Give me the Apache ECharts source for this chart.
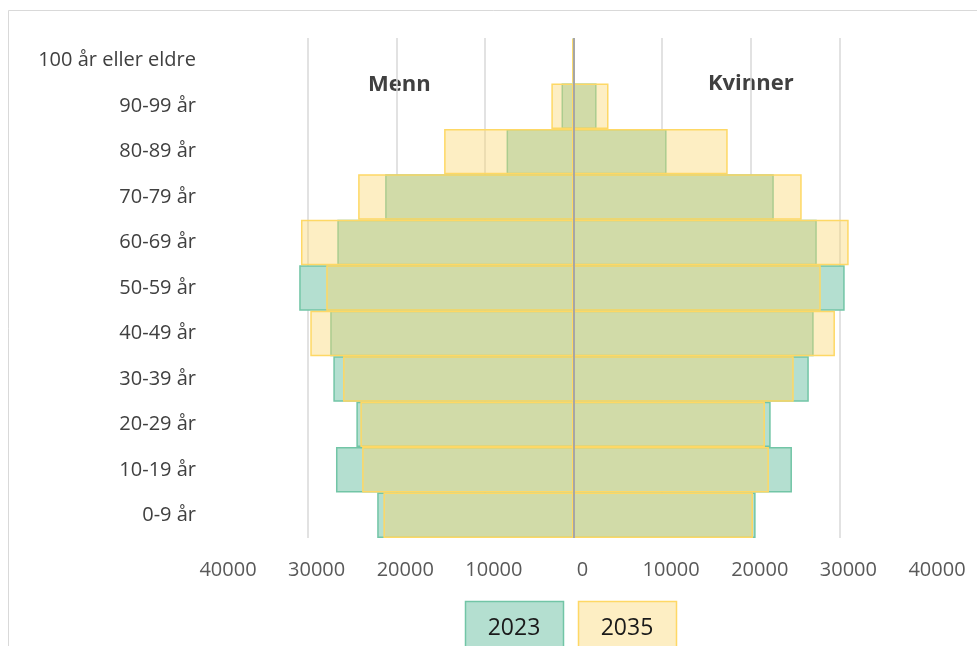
<!DOCTYPE html>
<html>
<head>
<meta charset="utf-8">
<script src="https://cdn.jsdelivr.net/npm/echarts@6/dist/echarts.min.js"></script>
<style>
  html, body { margin: 0; padding: 0; background: #fff; }
  #main { width: 977px; height: 646px; }
</style>
</head>
<body>
<div id="main"></div>
<script>
// aldersgrupper, nederst først
var categories = ['0-9 år', '10-19 år', '20-29 år', '30-39 år', '40-49 år', '50-59 år',
                  '60-69 år', '70-79 år', '80-89 år', '90-99 år', '100 år eller eldre'];
// menn (vises som negative verdier)
var menn2023 = [22150, 26800, 24500, 27100, 27450, 30950, 26650, 21250, 7550, 1350, 30];
var menn2035 = [21450, 23850, 24050, 26000, 29700, 27900, 30750, 24300, 14600, 2500, 150];
// kvinner
var kvinner2023 = [20550, 24650, 22250, 26550, 27100, 30600, 27450, 22600, 10500, 2600, 60];
var kvinner2035 = [20250, 22050, 21600, 24850, 29500, 27900, 31050, 25750, 17400, 3950, 120];

var years = ['2023', '2035'];
var axisTicks = [-40000, 40000, 10000]; // min, max, interval

var fontName = '"Open Sans", Lato, sans-serif';

function neg(arr) {
  return arr.map(function (v) { return -v; });
}

var style2023 = { color: '#b4dfd0', borderColor: '#72c5a6', borderWidth: 1.5 };
var style2035 = { color: 'rgba(250,214,112,0.42)', borderColor: '#fed865', borderWidth: 1.5 };

var chart = echarts.init(document.getElementById('main'));

var option = {
  backgroundColor: '#fff',
  animation: false,
  grid: { left: 219, right: 49, top: 38, bottom: 108, containLabel: false },
  xAxis: {
    type: 'value',
    min: axisTicks[0],
    max: axisTicks[1],
    interval: axisTicks[2],
    axisLine: { show: false },
    axisTick: { show: false },
    splitLine: { show: true, showMinLine: false, showMaxLine: false,
                 lineStyle: { color: '#d9d9d9', width: 1.5 } },
    axisLabel: {
      color: '#595959',
      fontSize: 20,
      fontFamily: fontName,
      margin: 22,
      padding: [0, 0, 0, 18],
      formatter: function (v) { return String(Math.abs(v)); }
    }
  },
  yAxis: {
    type: 'category',
    data: categories,
    axisLine: { show: false, onZero: false },
    axisTick: { show: false },
    splitLine: { show: false },
    axisLabel: {
      color: '#404040',
      fontSize: 20,
      fontFamily: fontName,
      margin: 23
    }
  },
  series: [
    {
      name: years[0], type: 'bar', stack: 's2023', data: neg(menn2023),
      barCategoryGap: 0, barGap: '-100%', itemStyle: style2023, z: 2
    },
    {
      name: years[0], type: 'bar', stack: 's2023', data: kvinner2023,
      barCategoryGap: 0, barGap: '-100%', itemStyle: style2023, z: 2
    },
    {
      name: years[1], type: 'bar', stack: 's2035', data: neg(menn2035),
      barCategoryGap: 0, barGap: '-100%', itemStyle: style2035, z: 3
    },
    {
      name: years[1], type: 'bar', stack: 's2035', data: kvinner2035,
      barCategoryGap: 0, barGap: '-100%', itemStyle: style2035, z: 3
    },
    {
      // nullinja, eget lag over stolpene
      name: 'null', type: 'line', data: [], zlevel: 1, z: 10, silent: true,
      markLine: {
        silent: true,
        symbol: 'none',
        zlevel: 1,
        z: 10,
        label: { show: false },
        lineStyle: { color: '#a6a6a6', width: 2, type: 'solid' },
        data: [{ xAxis: 0 }]
      }
    }
  ],
  graphic: [
    // ytre ramme
    { type: 'rect', shape: { x: 8.5, y: 10.5, width: 1200, height: 900 },
      style: { fill: 'none', stroke: '#d9d9d9', lineWidth: 1 }, silent: true },
    { type: 'text', left: 368, top: 74,
      style: { text: 'Menn', fill: '#404040', font: 'bold 22px ' + fontName } },
    { type: 'text', left: 708, top: 73,
      style: { text: 'Kvinner', fill: '#404040', font: 'bold 22px ' + fontName } },
    // tegnforklaring
    { type: 'rect', shape: { x: 465.5, y: 601.5, width: 98, height: 60 },
      style: { fill: '#b4dfd0', stroke: '#72c5a6', lineWidth: 1.5 } },
    { type: 'text', x: 514, y: 628,
      style: { text: years[0], fill: '#1a1a1a', font: '23px ' + fontName,
               align: 'center', verticalAlign: 'middle' } },
    { type: 'rect', shape: { x: 578.5, y: 601.5, width: 98, height: 60 },
      style: { fill: '#fdeec3', stroke: '#fed865', lineWidth: 1.5 } },
    { type: 'text', x: 627, y: 628,
      style: { text: years[1], fill: '#1a1a1a', font: '23px ' + fontName,
               align: 'center', verticalAlign: 'middle' } }
  ]
};

chart.setOption(option);
</script>
</body>
</html>
